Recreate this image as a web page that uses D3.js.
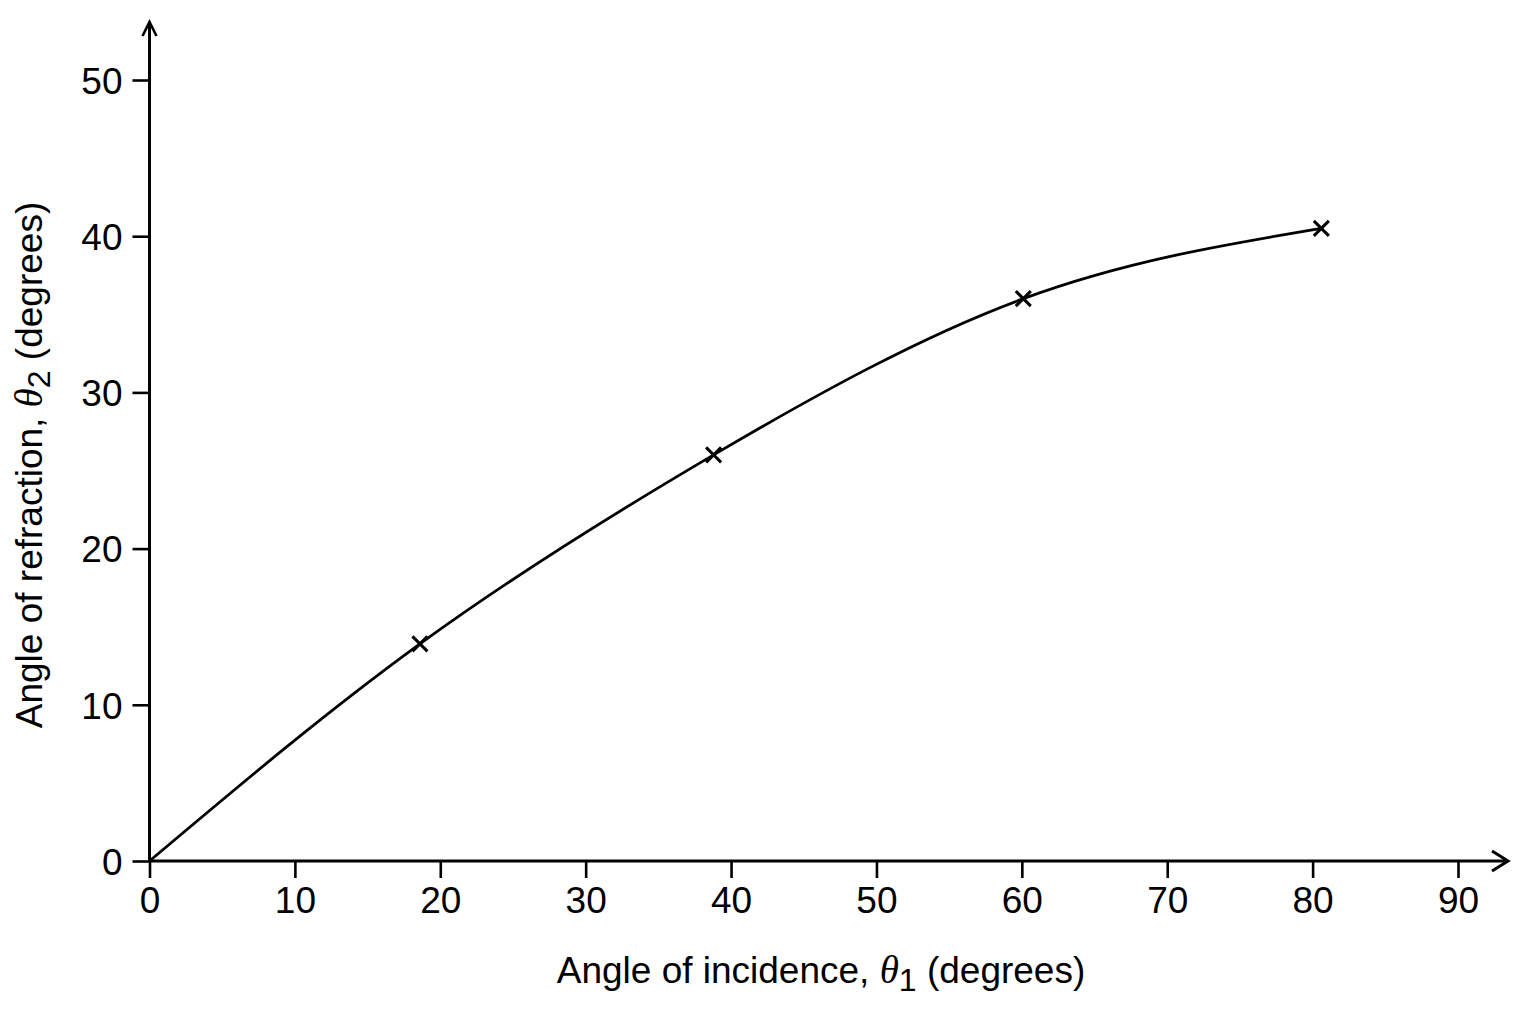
<!DOCTYPE html>
<html><head><meta charset="utf-8">
<script src="https://cdn.jsdelivr.net/npm/d3@7"></script>
<style>body{margin:0;background:#fff}svg{display:block}text{font-family:"Liberation Sans",Arial,sans-serif;fill:#000}</style>
</head><body><svg id="c" width="1536" height="1024"></svg>
<script>
const incidence = [18.6, 38.8, 60.1, 80.6];
const refraction = [13.9, 26.0, 36.0, 40.5];
const curveX = [0, 18.6, 38.8, 60.1, 80.6];
const curveY = [0, 13.9, 26.0, 36.0, 40.5];
const xTicks = [0,10,20,30,40,50,60,70,80,90];
const yTicks = [0,10,20,30,40,50];

const svg = d3.select("#c");
const x = d3.scaleLinear().domain([0,90]).range([149.5,1458]);
const y = d3.scaleLinear().domain([0,50]).range([861,80]);
const ink = "#000";
const sw = 3;

// axes lines with arrows
svg.append("line").attr("x1",x(0)-1).attr("x2",1508).attr("y1",y(0)).attr("y2",y(0)).attr("stroke",ink).attr("stroke-width",sw);
svg.append("line").attr("x1",x(0)).attr("x2",x(0)).attr("y1",y(0)+1).attr("y2",23).attr("stroke",ink).attr("stroke-width",sw);
svg.append("path").attr("d",`M1492,851 L1508,${y(0)} L1492,871`).attr("fill","none").attr("stroke",ink).attr("stroke-width",sw);
svg.append("path").attr("d",`M${x(0)-7},36 L${x(0)},22 L${x(0)+7},36`).attr("fill","none").attr("stroke",ink).attr("stroke-width",2.6);

const xa = svg.append("g").attr("transform",`translate(0,${y(0)})`)
  .call(d3.axisBottom(x).tickValues(xTicks).tickSize(17).tickPadding(8));
xa.select(".domain").remove();
xa.selectAll("line").attr("stroke",ink).attr("stroke-width",2.6);
xa.selectAll("text").attr("font-size",37).attr("font-family","Liberation Sans, Arial, sans-serif").attr("fill",ink).attr("dy","0.74em");

const ya = svg.append("g").attr("transform",`translate(${x(0)},0)`)
  .call(d3.axisLeft(y).tickValues(yTicks).tickSize(17).tickPadding(10));
ya.select(".domain").remove();
ya.selectAll("line").attr("stroke",ink).attr("stroke-width",2.6);
ya.selectAll("text").attr("font-size",37).attr("font-family","Liberation Sans, Arial, sans-serif").attr("fill",ink).attr("dy","0.36em");

// curve
const pts = curveX.map((v,i)=>[v,curveY[i]]);
svg.append("path").datum(pts)
  .attr("d", d3.line().x(d=>x(d[0])).y(d=>y(d[1])).curve(d3.curveNatural))
  .attr("fill","none").attr("stroke",ink).attr("stroke-width",2.8);

// markers
const s = 7.5;
svg.append("g").selectAll("path").data(incidence.map((v,i)=>[v,refraction[i]])).join("path")
  .attr("d", d=>{const cx=x(d[0]), cy=y(d[1]); return `M${cx-s},${cy-s}L${cx+s},${cy+s}M${cx-s},${cy+s}L${cx+s},${cy-s}`;})
  .attr("stroke",ink).attr("stroke-width",3);

// titles
const xt = svg.append("text").attr("x",821).attr("y",983).attr("text-anchor","middle").attr("font-size",37);
xt.append("tspan").text("Angle of incidence, ");
xt.append("tspan").attr("font-family","Liberation Serif, serif").attr("font-style","italic").attr("font-size",39).text("θ");
xt.append("tspan").attr("dy",8).attr("font-size",32).text("1");
xt.append("tspan").attr("dy",-8).text(" (degrees)");

const yt = svg.append("text").attr("transform","translate(42,465) rotate(-90)").attr("text-anchor","middle").attr("font-size",37);
yt.append("tspan").text("Angle of refraction, ");
yt.append("tspan").attr("font-family","Liberation Serif, serif").attr("font-style","italic").attr("font-size",39).text("θ");
yt.append("tspan").attr("dy",8).attr("font-size",32).text("2");
yt.append("tspan").attr("dy",-8).text(" (degrees)");
</script></body></html>
